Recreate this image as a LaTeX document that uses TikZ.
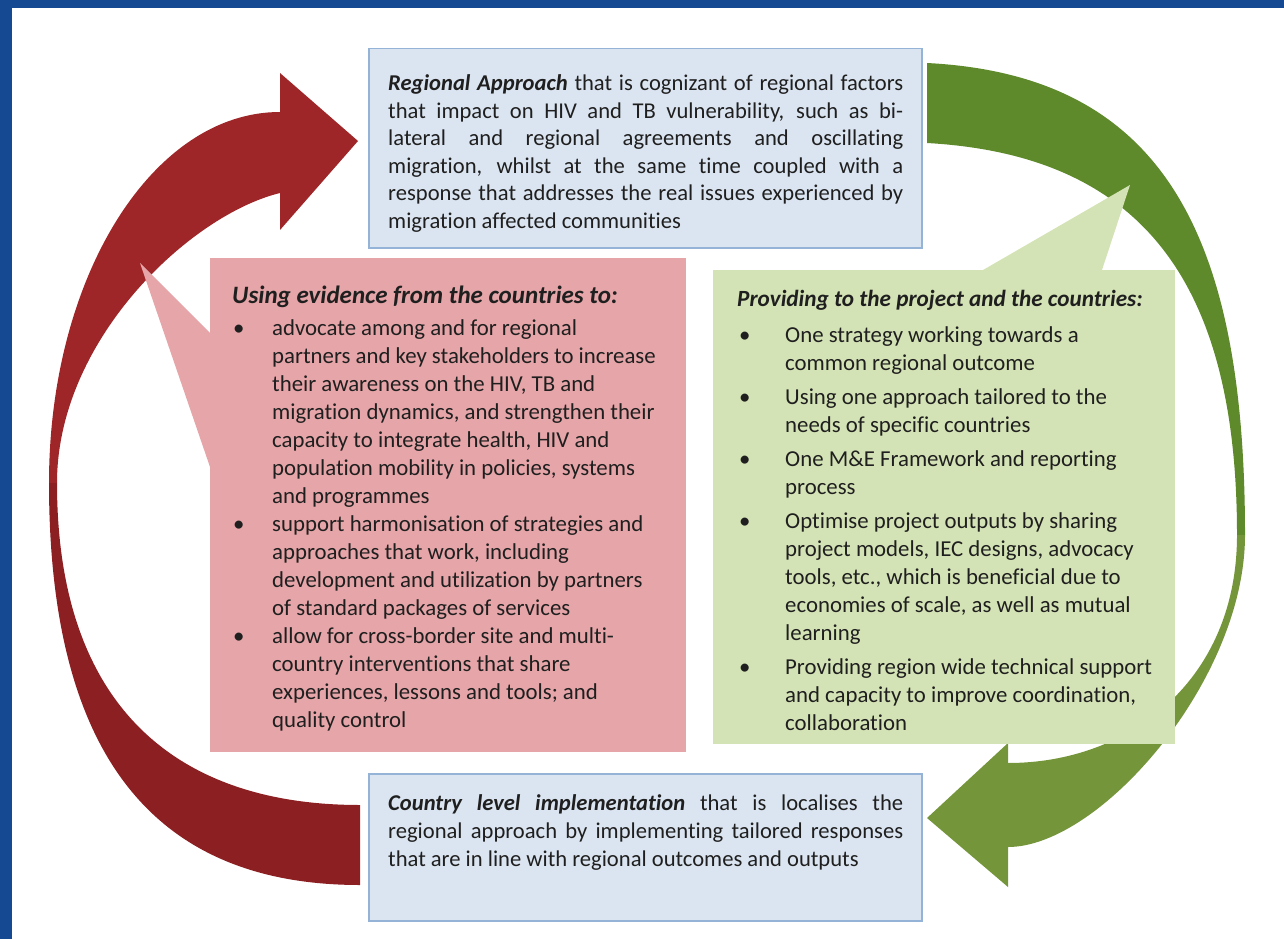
\documentclass[tikz,border=0pt]{standalone}
\usepackage{fontspec}
\setmainfont[Ligatures=NoCommon]{Carlito}

\definecolor{frame}{HTML}{154A92}
\definecolor{arrowred}{HTML}{9E2628}
\definecolor{arrowredlow}{HTML}{8C1F22}
\definecolor{arrowgreen}{HTML}{5E8A2B}
\definecolor{arrowgreenlow}{HTML}{74953A}
\definecolor{boxblue}{HTML}{DBE5F1}
\definecolor{boxblueline}{HTML}{95B3D7}
\definecolor{boxpink}{HTML}{E6A5A8}
\definecolor{boxgreen}{HTML}{D4E3B5}

\newlength\bindent
\newcommand{\bi}[1]{\textbf{\textit{#1}}}
\newcommand{\jline}[1]{\makebox[\linewidth][s]{#1}\\}
\newcommand{\bitem}[2][1pt]{\par\hangindent=\bindent\hangafter=1\noindent
  \makebox[\bindent][l]{\hspace{#1}\textbullet}#2}

\begin{document}
\begin{tikzpicture}[x=1pt,y=-1pt,
    txt/.style={inner sep=0pt,anchor=base west,text=black!88},
    bluebox/.style={draw=boxblueline,line width=1.5pt,fill=boxblue,inner sep=0pt,anchor=north west},
    callbox/.style={inner sep=0pt,anchor=north west}]
  \useasboundingbox (0,0) rectangle (1284,939);
  \fill[frame] (0,0) rectangle (1284,8);
  \fill[frame] (0,0) rectangle (12,939);

  % red loop, head at the top
  \fill[arrowred] (280,112) -- (280,73) -- (358,141) -- (280,230) -- (280,193)
    .. controls (190,215) and (57,340) .. (57,483) -- (49,483)
    .. controls (49,278) and (152,112) .. (280,112) -- cycle;
  \fill[arrowredlow] (49,483) .. controls (49,750) and (150,885) .. (360,885)
    -- (360,805) .. controls (170,805) and (57,700) .. (57,483) -- cycle;

  % green loop, head at the bottom
  \fill[arrowgreen] (927,63) -- (927,143) .. controls (1140,155) and (1237,280) .. (1237,535)
    -- (1245,535) .. controls (1245,230) and (1160,75) .. (927,63) -- cycle;
  \fill[arrowgreenlow] (1245,535) .. controls (1245,680) and (1100,847) .. (1008,847)
    -- (1008,887) -- (927,818) -- (1008,743) -- (1008,763)
    .. controls (1130,763) and (1237,680) .. (1237,535) -- cycle;

  % callouts
  \node[callbox,fill=boxpink,minimum width=476pt,minimum height=494pt] (evbox) at (210,258) {};
  \fill[boxpink] ([yshift=-75pt]evbox.north west) -- (140,263) -- ([yshift=-209pt]evbox.north west) -- cycle;
  \node[callbox,fill=boxgreen,minimum width=462pt,minimum height=474pt] (provbox) at (713,270) {};
  \fill[boxgreen] ([xshift=270pt]provbox.north west) -- (1130,185) -- ([xshift=389pt]provbox.north west) -- cycle;

  \node[bluebox,minimum width=553pt,minimum height=199pt] (regbox) at (368,48) {};
  \node[bluebox,minimum width=553pt,minimum height=147pt] (ctrybox) at (368,773) {};

  \node[txt] (regtxt) at (388,90.7) {\parbox[t]{515pt}{\fontsize{22.6}{27.5}\selectfont
    \jline{\bi{Regional Approach} that is cognizant of regional factors}
    \jline{that impact on HIV and TB vulnerability, such as bi-}
    \jline{lateral and regional agreements and oscillating}
    \jline{migration, whilst at the same time coupled with a}
    \jline{response that addresses the real issues experienced by}
    migration affected communities}};

  \node[txt] (ctrytxt) at (388,810) {\parbox[t]{515pt}{\fontsize{22.6}{28}\selectfont
    \jline{\bi{Country level implementation} that is localises the}
    \jline{regional approach by implementing tailored responses}
    that are in line with regional outcomes and outputs}};

  \node[txt] (evtxt) at (232,303) {\parbox[t]{450pt}{\raggedright\setlength\bindent{40pt}%
    \fontsize{25}{28}\selectfont\bi{Using evidence from the countries to:}\par
    \vspace{4pt}\fontsize{22.8}{28}\selectfont
    \bitem{advocate among and for regional\newline partners and key stakeholders to increase\newline
      their awareness on the HIV, TB and\newline migration dynamics, and strengthen their\newline
      capacity to integrate health, HIV and\newline population mobility in policies, systems\newline
      and programmes}
    \bitem{support harmonisation of strategies and\newline approaches that work, including\newline
      development and utilization by partners\newline of standard packages of services}
    \bitem{allow for cross-border site and multi-\newline country interventions that share\newline
      experiences, lessons and tools; and\newline quality control}}};

  \node[txt] (provtxt) at (737,306) {\parbox[t]{440pt}{\raggedright\setlength\bindent{48pt}%
    \fontsize{23.2}{28}\selectfont\bi{Providing to the project and the countries:}\par
    \vspace{2pt}\setlength\parskip{6pt}\fontsize{22.8}{28}\selectfont
    \bitem[2pt]{One strategy working towards a\newline common regional outcome}
    \bitem[2pt]{Using one approach tailored to the\newline needs of specific countries}
    \bitem[2pt]{One M\&E Framework and reporting\newline process}
    \bitem[2pt]{Optimise project outputs by sharing\newline project models, IEC designs, advocacy\newline
      tools, etc., which is beneficial due to\newline economies of scale, as well as mutual\newline learning}
    \bitem[2pt]{Providing region wide technical support\newline and capacity to improve coordination,\newline
      collaboration}}};
\end{tikzpicture}
\end{document}
